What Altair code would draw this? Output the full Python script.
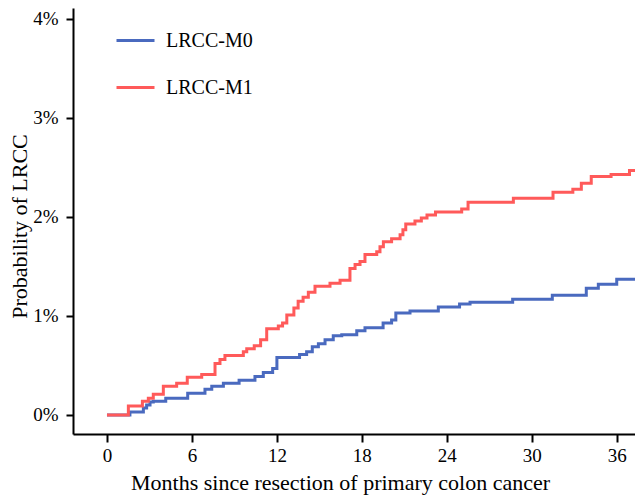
import altair as alt
import pandas as pd

# Step curves (month at which the step occurs, cumulative probability in %)
m1_months = [0, 1.51, 2.5, 2.92, 3.27, 3.98, 4.92, 5.67, 6.69, 7.63, 7.98, 8.33, 9.63, 9.87,
             10.4, 10.85, 11.28, 12.1, 12.4, 12.7, 13.2, 13.5, 13.85, 14.22, 14.69, 15.75,
             16.46, 17.16, 17.52, 17.87, 18.22, 19.05, 19.28, 19.52, 20.1, 20.7, 20.9, 21.1,
             21.75, 22.2, 22.6, 23.2, 25.05, 25.5, 28.7, 31.5, 32.9, 33.5, 34.2, 35.6, 36.9, 38.5]
m1_prob = [0, 0.09, 0.14, 0.17, 0.21, 0.29, 0.32, 0.38, 0.41, 0.52, 0.56, 0.60, 0.64, 0.67,
           0.70, 0.76, 0.87, 0.90, 0.93, 1.01, 1.08, 1.15, 1.19, 1.24, 1.30, 1.33,
           1.36, 1.48, 1.52, 1.55, 1.62, 1.65, 1.70, 1.75, 1.78, 1.82, 1.87, 1.93,
           1.96, 1.99, 2.02, 2.05, 2.08, 2.15, 2.19, 2.25, 2.28, 2.34, 2.41, 2.43, 2.47, 2.47]

m0_months = [0, 1.62, 2.57, 2.8, 3.04, 3.27, 4.15, 5.7, 6.92, 7.4, 8.22, 9.33, 10.45, 11.04,
             11.7, 12.0, 13.6, 14.1, 14.5, 14.93, 15.4, 15.98, 16.58, 17.64, 18.22, 19.5,
             20.1, 20.4, 21.4, 23.4, 24.9, 25.64, 28.65, 31.45, 33.85, 34.7, 36.0, 38.5]
m0_prob = [0, 0.03, 0.07, 0.10, 0.13, 0.14, 0.17, 0.22, 0.26, 0.29, 0.32, 0.35, 0.39, 0.43,
           0.47, 0.58, 0.61, 0.64, 0.69, 0.72, 0.76, 0.80, 0.81, 0.85, 0.88, 0.93,
           0.96, 1.03, 1.05, 1.09, 1.12, 1.14, 1.17, 1.21, 1.28, 1.32, 1.37, 1.37]

groups = ["LRCC-M0", "LRCC-M1"]
colors = ["#4a6abf", "#ff5a5a"]
x_ticks = [0, 6, 12, 18, 24, 30, 36]
y_ticks = [0, 1, 2, 3, 4]

df = pd.concat([
    pd.DataFrame({"month": m0_months, "prob": m0_prob, "group": groups[0]}),
    pd.DataFrame({"month": m1_months, "prob": m1_prob, "group": groups[1]}),
])

FONT = "Liberation Serif"

chart = alt.Chart(df).mark_line(interpolate="step-after", strokeWidth=3, clip=True).encode(
    x=alt.X("month:Q",
            scale=alt.Scale(domain=[-2.4, 37.29], nice=False, zero=False),
            axis=alt.Axis(values=x_ticks, title="Months since resection of primary colon cancer",
                          grid=False, tickSize=8, labelPadding=4, titlePadding=7,
                          titleX=267, titleAlign="center")),
    y=alt.Y("prob:Q",
            scale=alt.Scale(domain=[-0.192, 4.111], nice=False, zero=False),
            axis=alt.Axis(values=y_ticks, labelExpr="datum.value + '%'", title="Probability of LRCC",
                          grid=False, tickSize=7, labelPadding=8, titlePadding=1,
                          titleY=218, titleAlign="center")),
    color=alt.Color("group:N", scale=alt.Scale(domain=groups, range=colors),
                    legend=alt.Legend(title=None, orient="none", legendX=42, legendY=12,
                                      symbolType="stroke", symbolSize=1444, symbolStrokeWidth=3,
                                      labelFontSize=20, labelFont=FONT, labelColor="black",
                                      labelOffset=10, rowPadding=16, padding=0)),
    order=alt.Order("month:Q"),
).properties(
    width=562, height=426,
    autosize=alt.AutoSizeParams(type="none"),
    padding={"left": 65, "top": 0, "right": 0, "bottom": 62},
).configure_view(
    stroke=None
).configure_axis(
    domainColor="black", domainWidth=2, tickColor="black", tickWidth=2,
    labelFont=FONT, labelFontSize=19, labelColor="black",
    titleFont=FONT, titleFontSize=22, titleFontWeight="normal", titleColor="black",
)

chart.save("out.html", embed_options={"renderer": "svg", "actions": False})
